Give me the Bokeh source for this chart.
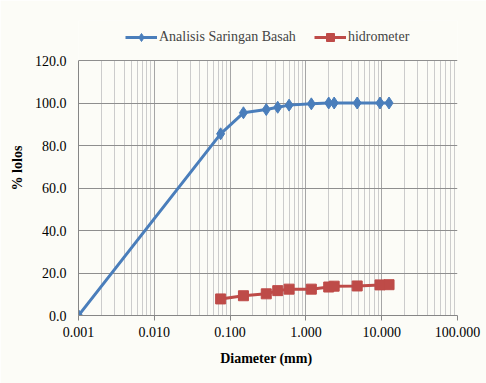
from bokeh.plotting import figure
from bokeh.models import FixedTicker, Legend, LegendItem, PrintfTickFormatter, Range1d
from bokeh.embed import file_html
from bokeh.resources import INLINE

# data
diam_sieve = [0.001, 0.075, 0.15, 0.3, 0.425, 0.6, 1.18, 2.0, 2.36, 4.75, 9.5, 12.5]
lolos_sieve = [0.0, 85.5, 95.4, 96.9, 98.0, 99.0, 99.6, 100.0, 100.0, 100.0, 100.0, 100.0]
diam_hydro = [0.075, 0.15, 0.3, 0.425, 0.6, 1.18, 2.0, 2.36, 4.75, 9.5, 12.5]
lolos_hydro = [7.8, 9.3, 10.2, 11.7, 12.4, 12.4, 13.4, 13.8, 13.9, 14.4, 14.5]
x_ticks = [0.001, 0.01, 0.1, 1, 10, 100]
x_tick_labels = ["0.001", "0.010", "0.100", "1.000", "10.000", "100.000"]
y_ticks = [0, 20, 40, 60, 80, 100, 120]
x_min, x_max = 0.001, 100
y_min, y_max = 0, 120

BG = "#fcfcf7"
BLUE = "#4a7ebb"
RED = "#be4b48"
FONT = "Liberation Serif"

minor = [m * d for d in x_ticks[:-1] for m in range(2, 10)]

# frame extends 40 px above the 120 line to host the legend (255 px per 120 units)
y_top = y_max + 40 * (y_max - y_min) / 255.0

p = figure(width=486, height=383, x_axis_type="log",
           x_range=Range1d(x_min, x_max), y_range=Range1d(y_min, y_top),
           toolbar_location=None, output_backend="svg",
           background_fill_color=BG, border_fill_color=BG, outline_line_color=None,
           min_border_left=78, min_border_right=29, min_border_top=20, min_border_bottom=68)

p.xaxis.ticker = FixedTicker(ticks=x_ticks, minor_ticks=minor)
p.xaxis.major_label_overrides = {t: l for t, l in zip(x_ticks, x_tick_labels)}
p.yaxis.ticker = FixedTicker(ticks=y_ticks)
p.yaxis.formatter = PrintfTickFormatter(format="%.1f")
p.yaxis.bounds = (y_min, y_max)

for ax in (p.xaxis, p.yaxis):
    ax.major_label_text_font = FONT
    ax.major_label_text_font_size = "14px"
    ax.major_label_text_color = "black"
    ax.axis_label_text_font = FONT
    ax.axis_label_text_font_size = "14px"
    ax.axis_label_text_font_style = "bold"
    ax.axis_label_text_color = "black"
    ax.axis_line_color = "#868686"
    ax.major_tick_line_color = "#868686"
    ax.minor_tick_line_color = None

p.xaxis.axis_label = "Diameter  (mm)"
p.yaxis.axis_label = "% lolos"
p.xaxis.major_tick_out = 5
p.xaxis.major_tick_in = 0
p.yaxis.major_tick_out = 0
p.yaxis.major_tick_in = 0
p.yaxis.major_label_standoff = 12
p.xaxis.major_label_standoff = 6
p.xaxis.axis_label_standoff = 11
p.yaxis.axis_label_standoff = 7

p.xgrid.grid_line_color = "#a6a6a6"
p.xgrid.minor_grid_line_color = "#cccccc"
p.xgrid.cross_bounds = (y_min, y_max)
p.ygrid.grid_line_color = "#8e8e8e"
p.ygrid.bounds = (y_min, y_max)

l1 = p.line(diam_sieve, lolos_sieve, line_color=BLUE, line_width=3)
m1 = p.scatter(diam_sieve, lolos_sieve, marker="diamond", size=12, color=BLUE)
l2 = p.line(diam_hydro, lolos_hydro, line_color=RED, line_width=3)
m2 = p.scatter(diam_hydro, lolos_hydro, marker="square", size=10, color=RED)

legend = Legend(items=[LegendItem(label="Analisis Saringan Basah", renderers=[l1, m1]),
                       LegendItem(label="hidrometer", renderers=[l2, m2])],
                orientation="horizontal", location=(47, 268),
                label_text_font=FONT, label_text_font_size="14px",
                glyph_width=32, label_standoff=2, spacing=18,
                border_line_color=None, background_fill_alpha=0,
                padding=4, margin=0)
p.add_layout(legend)

open("out.html", "w").write(file_html(p, INLINE))
